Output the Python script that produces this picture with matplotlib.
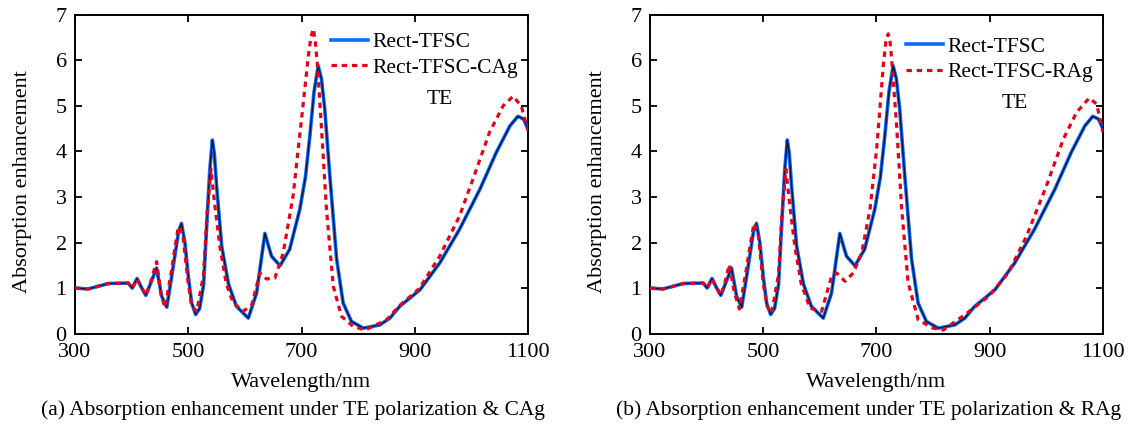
import matplotlib
matplotlib.use('Agg')
import matplotlib.pyplot as plt

# Rect-TFSC (same curve in both panels)
wl_base = [300, 323, 359, 394, 401, 409.5, 417, 425, 434, 444, 453, 462, 471, 477, 483, 488,
           494, 500, 506, 513, 520, 527, 532.5, 538, 542.5, 546, 550, 559, 571, 585, 606,
           620.6, 628, 635.3, 641, 647, 662, 679, 697, 707, 714.7, 722, 729.4, 735, 741,
           750, 762, 773.5, 788, 809, 838, 856, 873.5, 909, 944, 979, 1015, 1044, 1068,
           1082, 1092, 1100]
ae_base = [1.00, 0.98, 1.10, 1.11, 1.00, 1.21, 1.02, 0.84, 1.12, 1.44, 0.82, 0.58, 1.28, 1.77, 2.25, 2.42,
           2.00, 1.26, 0.67, 0.42, 0.55, 1.07, 2.37, 3.60, 4.25, 3.95, 3.24, 1.92, 1.09, 0.60, 0.34,
           0.89, 1.55, 2.20, 1.95, 1.70, 1.49, 1.85, 2.73, 3.45, 4.34, 5.30, 5.88, 5.60, 4.93,
           3.46, 1.63, 0.67, 0.27, 0.12, 0.19, 0.34, 0.60, 0.96, 1.55, 2.29, 3.17, 3.98, 4.56,
           4.77, 4.71, 4.49]

# Rect-TFSC-CAg
wl_cag = [300, 323, 359, 394, 401, 409.5, 417, 425, 434, 444, 452, 459, 470, 476, 482.5, 490,
          500, 506, 515, 527, 533, 540, 547, 556, 567, 579, 597, 612, 626.5, 638,
          653, 667.6, 685, 700, 712, 716.5, 720.6, 724, 727.6, 735, 744, 756, 770.6, 791, 812,
          850, 873.5, 908, 944, 979, 1009, 1032, 1056, 1073.5, 1088, 1100]
ae_cag = [1.00, 0.98, 1.10, 1.11, 1.00, 1.20, 1.02, 0.84, 1.15, 1.58, 0.85, 0.57, 1.35, 1.85, 2.35, 2.20,
          1.10, 0.60, 0.49, 1.30, 2.60, 3.61, 2.80, 1.90, 1.10, 0.68, 0.49, 0.63, 1.33, 1.20,
          1.22, 1.77, 3.02, 4.71, 6.10, 6.50, 6.69, 6.45, 5.96, 4.56, 2.73, 1.04, 0.38, 0.16, 0.08,
          0.30, 0.62, 0.99, 1.70, 2.58, 3.61, 4.42, 5.00, 5.21, 5.00, 4.45]

# Rect-TFSC-RAg
wl_rag = [300, 323, 359, 394, 401, 409.5, 417, 425, 432, 440, 449, 458, 470, 477, 483.7, 491,
          500, 507, 515, 527, 533, 540, 547, 556, 567, 582.5, 603, 620.8, 629.7, 644.3,
          659, 673.8, 688.5, 700.3, 712, 716.5, 720.8, 724, 726.7, 735.6, 744.5, 756, 773.8, 800, 818,
          860, 899, 932.7, 965, 1000, 1030, 1053.5, 1075.7, 1088.8, 1100]
ae_rag = [1.00, 0.98, 1.10, 1.11, 1.00, 1.20, 1.02, 0.84, 1.10, 1.52, 0.90, 0.54, 1.40, 1.95, 2.42, 2.20,
          1.10, 0.60, 0.45, 1.30, 2.60, 3.61, 2.80, 1.90, 1.10, 0.56, 0.49, 1.26, 1.33, 1.15,
          1.33, 1.77, 2.73, 4.05, 5.88, 6.40, 6.58, 6.40, 6.03, 4.56, 2.73, 1.11, 0.30, 0.12, 0.08,
          0.45, 0.83, 1.33, 2.14, 3.24, 4.27, 4.86, 5.17, 5.04, 4.42]

x_ticks = [300, 500, 700, 900, 1100]
y_ticks = [0, 1, 2, 3, 4, 5, 6, 7]
captions = ['(a) Absorption enhancement under TE polarization & CAg',
            '(b) Absorption enhancement under TE polarization & RAg']
labels = ['Rect-TFSC-CAg', 'Rect-TFSC-RAg']

plt.rcParams['font.family'] = ['Liberation Serif', 'DejaVu Serif']

fig = plt.figure(figsize=(11.3, 4.33), dpi=100)
ax_left = fig.add_axes([0.0664, 0.2295, 0.4009, 0.7365])
ax_right = fig.add_axes([0.5752, 0.2295, 0.4009, 0.7365])

# legend top (axes fraction) differs a little between the two panels
panels = [(ax_left, wl_cag, ae_cag, labels[0], captions[0], 0.985),
          (ax_right, wl_rag, ae_rag, labels[1], captions[1], 0.972)]

for ax, wl_ag, ae_ag, lab, cap, leg_top in panels:
    ax.plot(wl_base, ae_base, color='#0a6cff', lw=2.6, label='Rect-TFSC', zorder=3)
    ax.plot(wl_base, ae_base, color='#101030', lw=1.0, zorder=4)
    ax.plot(wl_ag, ae_ag, color='#e4001a', lw=2.3, dashes=(1.7, 1.5), label=lab, zorder=5)

    ax.set_xlim(300, 1100)
    ax.set_ylim(0, 7)
    ax.set_xticks(x_ticks)
    ax.set_yticks(y_ticks)
    ax.tick_params(direction='in', top=True, right=True, length=5, width=1.3,
                   labelsize=16, pad=6)
    ax.tick_params(axis='x', pad=7)
    for sp in ax.spines.values():
        sp.set_linewidth(1.4)

    ax.set_xlabel('Wavelength/nm', fontsize=16)
    ax.xaxis.set_label_coords(0.5, -0.125)
    ax.set_ylabel('Absorption enhancement', fontsize=16)
    ax.yaxis.set_label_coords(-0.095, 0.478)

    ax.legend(loc='upper left', bbox_to_anchor=(0.536, leg_top), frameon=False,
              fontsize=15.5, handlelength=1.75, handletextpad=0.2,
              borderpad=0.1, labelspacing=0.25)
    ax.text(0.805, leg_top - 0.25, 'TE', transform=ax.transAxes, fontsize=15.5,
            ha='center', va='center')

    ax.text(0.482, -0.24, cap, transform=ax.transAxes, fontsize=15.4,
            ha='center', va='center')

fig.savefig('out.png', dpi=100)
